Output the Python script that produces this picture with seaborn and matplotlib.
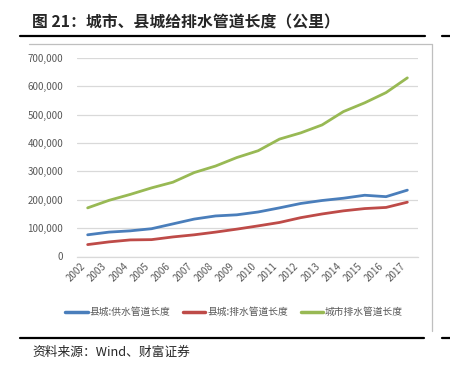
import matplotlib
matplotlib.use("Agg")
import matplotlib.pyplot as plt
from matplotlib.lines import Line2D
import numpy as np
import pandas as pd
import seaborn as sns

years = [str(y) for y in range(2002, 2018)]
county_supply = [76500, 86000, 90500, 98000, 115000, 132000, 143000, 147000,
                 157000, 171500, 187000, 197500, 205500, 216000, 211000, 234000]
county_drain = [42000, 51500, 58500, 59500, 69000, 76500, 86000, 96500,
                108000, 120000, 137000, 150000, 161000, 169000, 173000, 191500]
city_drain = [171500, 198000, 219000, 242000, 262000, 296000, 319000, 349000,
              373000, 414000, 436000, 464000, 511000, 542000, 578000, 630000]
series_names = ["县城:供水管道长度", "县城:排水管道长度", "城市排水管道长度"]
colors = ["#4A7EBB", "#BE4B48", "#98B954"]
title = "图 21：城市、县城给排水管道长度（公里）"
source = "资料来源：Wind、财富证券"

df = pd.DataFrame({
    "year": years * 3,
    "value": county_supply + county_drain + city_drain,
    "series": np.repeat(series_names, len(years)),
})

sns.set_style("white")
plt.rcParams["font.family"] = ["Noto Sans CJK SC", "DejaVu Sans"]

W, H = 450, 375
fig = plt.figure(figsize=(4.5, 3.75), dpi=100)

def px(x0, y0, x1, y1):
    return [x0 / W, 1 - y1 / H, (x1 - x0) / W, (y1 - y0) / H]

ax = fig.add_axes(px(77, 58, 418, 256.5))
sns.lineplot(data=df, x="year", y="value", hue="series", palette=colors,
             linewidth=2.0, ax=ax, legend=False, sort=False)

ax.set_xlim(-0.5, len(years) - 0.5)
ax.set_ylim(0, 700000)
ax.set_yticks(np.arange(0, 700001, 100000))
ax.set_yticklabels([f"{v:,}" for v in range(0, 700001, 100000)])
ax.yaxis.grid(True, color="#D9D9D9", linewidth=0.9)
ax.set_axisbelow(True)
for s in ["top", "right", "left"]:
    ax.spines[s].set_visible(False)
ax.spines["bottom"].set_color("#D9D9D9")
ax.spines["bottom"].set_linewidth(0.9)
ax.set_xlabel("")
ax.set_ylabel("")
ax.tick_params(axis="y", length=0, pad=10, labelsize=7, labelcolor="#595959")
ax.set_xticks(range(len(years)))
ax.set_xticklabels(years, rotation=45, ha="right", fontsize=7, color="#595959")
ax.tick_params(axis="x", length=0, pad=3)
ax.set_xticks(np.arange(-0.5, len(years), 1), minor=True)
ax.tick_params(axis="x", which="minor", length=4, color="#D9D9D9", width=0.9)

handles = [Line2D([0], [0], color=c, linewidth=2.5) for c in colors]
fig.legend(handles, series_names, loc="center", bbox_to_anchor=(0.52, 1 - 312 / H),
           ncol=3, frameon=False, fontsize=7, handlelength=2.3, handletextpad=0.2,
           columnspacing=1.3, labelcolor="#595959")

# chart frame and report decoration
fig.add_artist(Line2D([29 / W, 432 / W], [1 - 44 / H] * 2, color="#BFBFBF", linewidth=0.9))
fig.add_artist(Line2D([431.5 / W] * 2, [1 - 44 / H, 1 - 331 / H], color="#BFBFBF", linewidth=0.9))
fig.add_artist(Line2D([20 / W, 425 / W], [1 - 36 / H] * 2, color="black", linewidth=1.6))
fig.add_artist(Line2D([442 / W, 450 / W], [1 - 36 / H] * 2, color="black", linewidth=1.6))
fig.add_artist(Line2D([20 / W, 424 / W], [1 - 337.5 / H] * 2, color="black", linewidth=1.6))
fig.add_artist(Line2D([442 / W, 450 / W], [1 - 337.5 / H] * 2, color="black", linewidth=1.6))

fig.text(32 / W, 1 - 22 / H, title, fontsize=11.4, fontweight="bold", va="center", ha="left")
fig.text(32 / W, 1 - 352 / H, source, fontsize=9.2, style="italic", va="center", ha="left")

fig.savefig("out.png", dpi=100, facecolor="white")
